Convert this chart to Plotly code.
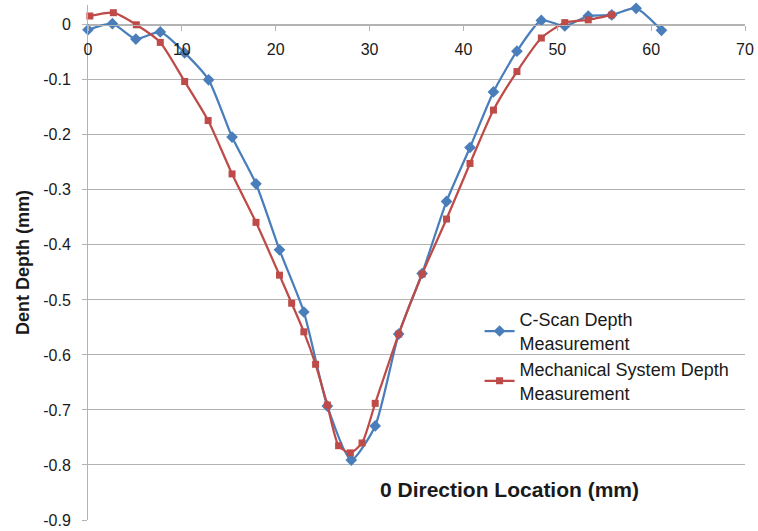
import plotly.graph_objects as go

# C-Scan depth measurement
cscan_x = [0.0, 2.6, 5.1, 7.7, 10.3, 12.85, 15.35, 17.9, 20.4, 23.0, 25.5, 28.05,
           30.6, 33.1, 35.6, 38.2, 40.7, 43.2, 45.7, 48.3, 50.8, 53.3, 55.8, 58.4, 61.1]
cscan_y = [-0.009, 0.002, -0.026, -0.013, -0.051, -0.100, -0.204, -0.289, -0.409,
           -0.522, -0.693, -0.791, -0.729, -0.562, -0.452, -0.321, -0.223, -0.122,
           -0.048, 0.008, -0.002, 0.016, 0.018, 0.030, -0.010]

# Mechanical system depth measurement
mech_x = [0.2, 2.7, 5.15, 7.7, 10.3, 12.8, 15.35, 17.9, 20.4, 21.7, 23.0, 24.25,
          25.5, 26.7, 27.95, 29.2, 30.6, 33.1, 35.6, 38.2, 40.7, 43.2, 45.7, 48.3,
          50.8, 53.3, 55.8]
mech_y = [0.016, 0.022, 0.000, -0.032, -0.103, -0.174, -0.271, -0.359, -0.455,
          -0.506, -0.558, -0.617, -0.691, -0.765, -0.778, -0.760, -0.688, -0.562,
          -0.453, -0.353, -0.252, -0.155, -0.085, -0.024, 0.004, 0.009, 0.018]

x_ticks = [0, 10, 20, 30, 40, 50, 60, 70]
y_ticks = [0, -0.1, -0.2, -0.3, -0.4, -0.5, -0.6, -0.7, -0.8, -0.9]
y_labels = ["0", "-0.1", "-0.2", "-0.3", "-0.4", "-0.5", "-0.6", "-0.7", "-0.8", "-0.9"]

BLUE = "#4a7ebb"
RED = "#be4b48"
GRID = "#b3b3b3"
FONT = "Liberation Sans, Arial, sans-serif"

y_min, y_max = -0.9, 0.036

fig = go.Figure()
fig.add_trace(go.Scatter(
    x=cscan_x, y=cscan_y,
    mode="lines+markers",
    name="C-Scan Depth<br>Measurement",
    line=dict(color=BLUE, width=2.25, shape="spline", smoothing=0.6),
    marker=dict(symbol="diamond", size=9, color=BLUE),
    cliponaxis=False
))
fig.add_trace(go.Scatter(
    x=mech_x, y=mech_y,
    mode="lines+markers",
    name="Mechanical System Depth<br>Measurement",
    line=dict(color=RED, width=2.25, shape="spline", smoothing=0.6),
    marker=dict(symbol="square", size=7, color=RED),
    cliponaxis=False
))

# x axis crosses the y axis at 0
zero_pos = (0 - y_min) / (y_max - y_min)

fig.update_layout(
    width=758, height=531,
    margin=dict(l=88, r=13, t=5, b=11),
    paper_bgcolor="white", plot_bgcolor="white",
    font=dict(family=FONT, size=16, color="#1a1a1a"),
    xaxis=dict(
        range=[0, 70], tickvals=x_ticks,
        anchor="free", position=zero_pos, side="bottom",
        showline=True, linecolor=GRID, linewidth=1,
        ticks="outside", ticklen=5, tickcolor=GRID,
        showgrid=False, zeroline=False,
        ticklabelstandoff=5, automargin=False,
        ticklabeloverflow="allow",
    ),
    yaxis=dict(
        range=[y_min, y_max], tickvals=y_ticks, ticktext=y_labels,
        showline=True, linecolor=GRID, linewidth=1,
        ticks="outside", ticklen=5, tickcolor=GRID,
        showgrid=True, gridcolor=GRID, gridwidth=1,
        zeroline=False, automargin=False,
        ticklabelstandoff=8,
        title=dict(text="<b>Dent Depth (mm)</b>", font=dict(size=18), standoff=8),
    ),
    legend=dict(
        x=0.596, y=0.425, xanchor="left", yanchor="top",
        bgcolor="rgba(0,0,0,0)", font=dict(size=18),
        tracegroupgap=4,
    ),
    annotations=[dict(
        text="<b>0 Direction Location (mm)</b>",
        xref="paper", yref="y", x=0.642, y=-0.845,
        showarrow=False, font=dict(size=21),
    )],
)

# drop the default page margin so the figure sits at the window's top-left corner
fig.write_html(
    "out.html",
    config={"displayModeBar": False},
    post_script="document.body.style.margin='0';document.body.style.overflow='hidden';",
)
